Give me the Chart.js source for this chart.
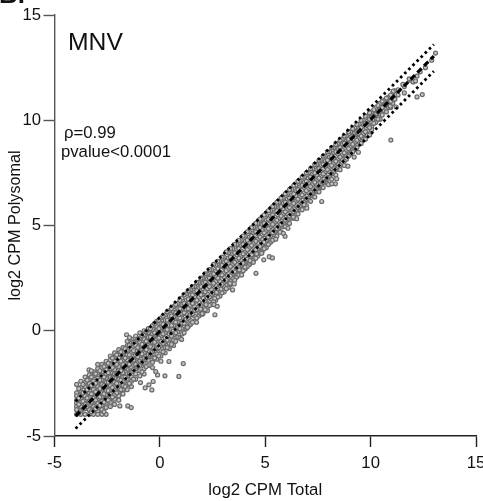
<!DOCTYPE html>
<html>
<head>
<meta charset="utf-8">
<title>MNV</title>
<script src="https://cdn.jsdelivr.net/npm/chart.js@4"></script>
<style>
html, body { margin: 0; padding: 0; background: #fff; overflow: hidden; }
canvas { display: block; }
</style>
</head>
<body>
<canvas id="grafico" width="483" height="501"></canvas>
<script>
const xTicks = [-5, 0, 5, 10, 15]
const yTicks = [-5, 0, 5, 10, 15]

// fit lines
const lineX = [-4, 13]
const fitY = [-4.05, 13.05]
const upperY = [-3.35, 13.6]
const lowerY = [-4.65, 12.33]

// main cloud, one list of y values per x column
const colX = [-3.95, -3.75, -3.55, -3.35, -3.15, -2.95, -2.75, -2.55, -2.35, -2.15, -1.95, -1.75, -1.55, -1.35, -1.15, -0.95, -0.75, -0.55, -0.35, -0.15, 0.05, 0.25, 0.45, 0.65, 0.85, 1.05, 1.25, 1.45, 1.65, 1.85, 2.05, 2.25, 2.45, 2.65, 2.85, 3.05, 3.25, 3.45, 3.65, 3.85, 4.05, 4.25, 4.45, 4.65, 4.85, 5.05, 5.25, 5.45, 5.65, 5.85, 6.05, 6.25, 6.45, 6.65, 6.85, 7.05, 7.25, 7.45, 7.65, 7.85, 8.05, 8.25, 8.45, 8.65, 8.85, 9.05, 9.25, 9.45, 9.65, 9.85, 10.05, 10.25, 10.45, 10.65, 10.85, 11.05, 11.3, 11.6, 11.9, 12.2, 12.6, 12.9]
const colY = [
  [-2.55, -2.95, -3.1, -3.3, -3.45, -3.6, -3.75, -3.97],
  [-2.4, -2.7, -2.9, -3.05, -3.25, -3.4, -3.6, -3.8, -3.97],
  [-2.2, -2.45, -2.65, -2.9, -3.1, -3.3, -3.5, -3.7, -3.97],
  [-2.1, -2.3, -2.5, -2.7, -2.95, -3.15, -3.35, -3.55, -3.75, -3.97],
  [-1.95, -2.15, -2.4, -2.6, -2.8, -3, -3.2, -3.4, -3.6, -3.8, -3.97],
  [-1.6, -1.8, -2, -2.25, -2.45, -2.65, -2.85, -3.05, -3.25, -3.45, -3.65, -3.82, -3.97],
  [-1.6, -1.75, -1.95, -2.15, -2.35, -2.55, -2.75, -2.95, -3.15, -3.35, -3.55, -3.75, -3.97],
  [-1.45, -1.65, -1.85, -2.05, -2.25, -2.45, -2.65, -2.85, -3.05, -3.25, -3.45, -3.65, -3.97],
  [-1.2, -1.4, -1.6, -1.8, -2, -2.2, -2.4, -2.6, -2.8, -3, -3.2, -3.4, -3.6],
  [-1.05, -1.25, -1.45, -1.65, -1.85, -2.05, -2.25, -2.45, -2.65, -2.85, -3.05, -3.25, -3.5],
  [-0.9, -1.1, -1.3, -1.5, -1.7, -1.9, -2.1, -2.3, -2.5, -2.7, -2.9, -3.1, -3.3],
  [-0.8, -1, -1.2, -1.4, -1.6, -1.8, -2, -2.2, -2.4, -2.6, -2.8, -3],
  [-0.5, -0.72, -0.95, -1.15, -1.38, -1.6, -1.82, -2.05, -2.3, -2.55, -2.8],
  [-0.4, -0.6, -0.85, -1.05, -1.3, -1.5, -1.75, -1.95, -2.2, -2.4, -2.65],
  [-0.25, -0.5, -0.7, -0.95, -1.15, -1.35, -1.6, -1.8, -2.05, -2.3],
  [-0.1, -0.35, -0.55, -0.75, -1, -1.2, -1.45, -1.65, -1.9, -2.15],
  [0, -0.2, -0.4, -0.65, -0.85, -1.05, -1.3, -1.55, -1.8, -2.05],
  [0.1, -0.1, -0.3, -0.5, -0.7, -0.95, -1.15, -1.4, -1.65],
  [0.25, 0.05, -0.15, -0.35, -0.55, -0.8, -1, -1.25, -1.5, -1.75],
  [0.45, 0.2, 0, -0.2, -0.4, -0.65, -0.85, -1.1, -1.35],
  [0.6, 0.35, 0.15, -0.05, -0.25, -0.5, -0.7, -0.95, -1.2, -1.45],
  [0.75, 0.5, 0.3, 0.1, -0.1, -0.35, -0.55, -0.8, -1.05],
  [0.95, 0.7, 0.5, 0.25, 0.05, -0.15, -0.4, -0.6, -0.85],
  [1.15, 0.9, 0.65, 0.45, 0.25, 0, -0.2, -0.45, -0.7],
  [1.3, 1.05, 0.85, 0.6, 0.4, 0.15, -0.05, -0.3],
  [1.55, 1.25, 1.05, 0.8, 0.6, 0.35, 0.1, -0.15],
  [1.75, 1.45, 1.25, 1, 0.8, 0.55, 0.3, 0.1],
  [1.95, 1.7, 1.45, 1.2, 1, 0.75, 0.5, 0.3],
  [2.1, 1.85, 1.6, 1.4, 1.15, 0.95, 0.7, 0.45],
  [2.3, 2.05, 1.8, 1.6, 1.35, 1.15, 0.9, 0.7],
  [2.5, 2.25, 2, 1.75, 1.55, 1.3, 1.1, 0.85],
  [2.7, 2.45, 2.2, 2, 1.75, 1.55, 1.3, 1.05, 0.95],
  [2.9, 2.65, 2.4, 2.15, 1.95, 1.7, 1.5, 1.25],
  [3.1, 2.85, 2.6, 2.35, 2.15, 1.9, 1.7, 1.45],
  [3.3, 3.05, 2.8, 2.6, 2.35, 2.1, 1.9, 1.65],
  [3.5, 3.25, 3, 2.75, 2.55, 2.3, 2.1, 1.85],
  [3.7, 3.45, 3.2, 2.95, 2.75, 2.5, 2.3, 2.05],
  [3.9, 3.65, 3.4, 3.15, 2.95, 2.7, 2.5, 2.25],
  [4.1, 3.85, 3.6, 3.35, 3.15, 2.9, 2.7, 2.55],
  [4.3, 4.05, 3.8, 3.55, 3.35, 3.1, 2.9, 2.75],
  [4.5, 4.25, 4, 3.75, 3.55, 3.3, 3.1, 2.95],
  [4.7, 4.45, 4.2, 3.95, 3.75, 3.5, 3.3, 3.15],
  [4.9, 4.65, 4.4, 4.15, 3.95, 3.7, 3.5, 3.35],
  [5.1, 4.85, 4.6, 4.35, 4.15, 3.9, 3.7, 3.55],
  [5.3, 5.05, 4.8, 4.55, 4.35, 4.1, 3.9, 3.75],
  [5.5, 5.25, 5, 4.75, 4.55, 4.3, 4.1, 3.95],
  [5.7, 5.45, 5.2, 4.95, 4.75, 4.5, 4.3, 4.2],
  [5.9, 5.65, 5.4, 5.15, 4.95, 4.7, 4.55],
  [6.1, 5.85, 5.6, 5.35, 5.15, 4.9, 4.75],
  [6.3, 6.05, 5.8, 5.55, 5.35, 5.1, 4.95],
  [6.5, 6.25, 6, 5.75, 5.55, 5.3, 5.15],
  [6.7, 6.45, 6.2, 5.95, 5.75, 5.5, 5.35],
  [6.9, 6.65, 6.4, 6.15, 5.95, 5.7, 5.55],
  [7.1, 6.85, 6.6, 6.35, 6.15, 5.9, 5.75],
  [7.3, 7.05, 6.8, 6.55, 6.35, 6.1, 5.95],
  [7.5, 7.25, 7, 6.75, 6.55, 6.3, 6.2],
  [7.7, 7.45, 7.2, 6.95, 6.75, 6.5, 6.4],
  [7.9, 7.65, 7.4, 7.15, 6.95, 6.7, 6.6],
  [8.1, 7.85, 7.6, 7.35, 7.15, 6.9, 6.8],
  [8.3, 8.05, 7.8, 7.55, 7.35, 7.1, 7.05],
  [8.5, 8.25, 8, 7.75, 7.55, 7.3],
  [8.7, 8.45, 8.2, 7.95, 7.75, 7.55],
  [8.9, 8.65, 8.4, 8.15, 7.95, 7.75],
  [9.1, 8.85, 8.6, 8.35, 8.15, 7.95],
  [9.25, 9, 8.8, 8.55, 8.35, 8.15],
  [9.45, 9.2, 9, 8.75, 8.55, 8.4],
  [9.65, 9.4, 9.2, 8.95, 8.75, 8.6],
  [9.8, 9.55, 9.35, 9.15, 8.95],
  [10, 9.75, 9.55, 9.35, 9.15],
  [10.2, 9.95, 9.75, 9.5, 9.3],
  [10.4, 10.15, 9.9, 9.7, 9.55],
  [10.6, 10.3, 10.1, 9.9],
  [10.8, 10.5, 10.3, 10.05],
  [10.95, 10.7, 10.45],
  [11.1, 10.85, 10.6],
  [11.3, 11.05, 10.8],
  [11.45, 11.2],
  [11.6, 11.3],
  [11.9],
  [12.1],
  [12.5],
  [12.85]
]

// second pass of columns between the first ones
const col2X = [-3.85, -3.65, -3.45, -3.25, -3.05, -2.85, -2.65, -2.45, -2.25, -2.05, -1.85, -1.65, -1.45, -1.25, -1.05, -0.85, -0.65, -0.45, -0.25, -0.05, 0.15, 0.35, 0.55, 0.75, 0.95, 1.15, 1.35, 1.55, 1.75, 1.95, 2.15, 2.35, 2.55, 2.75, 2.95, 3.15, 3.35, 3.55, 3.75, 3.95, 4.15, 4.35, 4.55, 4.75, 4.95, 5.15, 5.35, 5.55, 5.75, 5.95, 6.15, 6.35, 6.55, 6.75, 6.95, 7.15, 7.35, 7.55, 7.75, 7.95, 8.15, 8.35, 8.55, 8.75, 8.95, 9.15, 9.35, 9.55, 9.75, 9.95, 10.15, 10.35, 10.55, 10.75, 10.95, 11.15]
const col2Y = [
  [-2.75, -3.2, -3.5, -3.9],
  [-2.55, -2.95, -3.35, -3.72],
  [-2.35, -2.8, -3.2, -3.6],
  [-2.2, -2.6, -3, -3.4, -3.85],
  [-2.05, -2.5, -2.9, -3.3, -3.7],
  [-1.9, -2.35, -2.75, -3.15, -3.55],
  [-1.7, -2.2, -2.6, -3, -3.4, -3.85],
  [-1.55, -2, -2.45, -2.85, -3.3],
  [-1.3, -1.75, -2.25, -2.7, -3.15],
  [-1.15, -1.6, -2.05, -2.5, -2.95],
  [-1, -1.45, -1.9, -2.35, -2.8],
  [-0.85, -1.3, -1.75, -2.2, -2.65],
  [-0.7, -1.15, -1.6, -2.05, -2.5],
  [-0.55, -0.95, -1.4, -1.85, -2.3],
  [-0.4, -0.8, -1.25, -1.7],
  [-0.25, -0.65, -1.1, -1.5, -1.95],
  [-0.05, -0.5, -0.9, -1.3, -1.7],
  [0.1, -0.3, -0.75, -1.15],
  [0.35, -0.1, -0.55, -0.95, -1.3],
  [0.5, 0.1, -0.35, -0.8, -1.2],
  [0.7, 0.3, -0.15, -0.6, -1],
  [0.9, 0.5, 0.05, -0.45, -0.8],
  [1.05, 0.7, 0.25, -0.25, -0.65],
  [1.25, 0.85, 0.4, -0.1, -0.5],
  [1.45, 1.05, 0.6, 0.1, -0.35],
  [1.7, 1.3, 0.85, 0.35, -0.1],
  [1.9, 1.5, 1.05, 0.6, 0.2],
  [2.1, 1.7, 1.3, 0.8, 0.4],
  [2.3, 1.9, 1.45, 1, 0.6],
  [2.5, 2.1, 1.7, 1.2, 0.8],
  [2.7, 2.3, 1.85, 1.4, 1],
  [2.9, 2.5, 2.1, 1.6, 1.2],
  [3.15, 2.7, 2.25, 1.8, 1.4],
  [3.3, 2.95, 2.5, 2, 1.6],
  [3.5, 3.1, 2.65, 2.2, 1.8],
  [3.75, 3.3, 2.85, 2.4, 2],
  [3.9, 3.5, 3.05, 2.6, 2.2],
  [4.1, 3.7, 3.25, 2.8, 2.4],
  [4.3, 3.9, 3.45, 3, 2.65],
  [4.5, 4.1, 3.65, 3.2, 2.85],
  [4.7, 4.3, 3.85, 3.4, 3.05],
  [4.9, 4.5, 4.05, 3.6, 3.25],
  [5.1, 4.7, 4.25, 3.85, 3.45],
  [5.3, 4.9, 4.45, 4, 3.7],
  [5.5, 5.1, 4.65, 4.2, 3.9],
  [5.7, 5.3, 4.85, 4.45, 4.1],
  [5.9, 5.5, 5.05, 4.65, 4.3],
  [6.1, 5.7, 5.25, 4.85, 4.5],
  [6.3, 5.9, 5.45, 5.05, 4.7],
  [6.5, 6.1, 5.65, 5.25, 4.95],
  [6.7, 6.3, 5.85, 5.45, 5.1],
  [6.9, 6.5, 6.05, 5.65, 5.35],
  [7.1, 6.7, 6.25, 5.85, 5.55],
  [7.3, 6.9, 6.45, 6.05, 5.75],
  [7.5, 7.1, 6.65, 6.25, 5.95],
  [7.7, 7.3, 6.85, 6.45, 6.15],
  [7.9, 7.5, 7.05, 6.65, 6.35],
  [8.1, 7.7, 7.25, 6.85, 6.6],
  [8.3, 7.9, 7.45, 7.05, 6.8],
  [8.5, 8.1, 7.65, 7.25, 7],
  [8.7, 8.3, 7.85, 7.45, 7.2],
  [8.85, 8.5, 8.05, 7.65, 7.4],
  [9.05, 8.7, 8.25, 7.85, 7.65],
  [9.25, 8.9, 8.45, 8.05, 7.85],
  [9.45, 9.1, 8.65, 8.3],
  [9.6, 9.25, 8.85, 8.5],
  [9.8, 9.45, 9.05, 8.7],
  [10, 9.65, 9.25, 8.9],
  [10.2, 9.85, 9.45, 9.1],
  [10.35, 10.05, 9.65, 9.3],
  [10.5, 10.2, 9.85],
  [10.7, 10.4, 10.05],
  [10.9, 10.6, 10.25],
  [11.05, 10.75, 10.4],
  [11.2, 10.9, 10.6],
  [11.4, 11]
]

// points that sit away from the band
const outX = [3.33, 3.53, 3.45, 4.56, 3.88, 4.93, 5.19, 5.34, 5.5, 5.94, 6.08, 6.49, 6.97, 7.68, 8.33, 2.61, 2.03, 2.57, 2.72, 2.6, 4.43, 4.83, 10.96, 12.2, 12.45, 13.08, 12.35, 11.83, 12.02, 12.13, 11.53, 11.07, 11.21, 10.93, 9.22, 9.42, 8.92, -1.58, -1.44, -3.36, -3.25, 1.11, 0.43, 0.24, 0.9, -0.11, -0.2, -0.32, -0.52, -0.7, -0.38, -0.92, -1.9, -1.52, -1.36, 1.74, 1.03, 2.01, 1.31, 3.77, 4.04, 4.28, 4.59, 5.7, 5.86, 6.33, 6.84, 8, 8.16, 8.39, 2.9, 2.69, 2.19, 1.93]
const outY = [2.25, 2.22, 1.94, 2.73, 2.65, 3.37, 3.52, 3.46, 4.35, 4.49, 4.87, 5.32, 5.82, 6.14, 6.98, 0.76, 0.79, 1.24, 1.16, 1.54, 3.25, 3.68, 9.06, 11.11, 11.22, 13.19, 12.3, 11.97, 11.82, 11.87, 11.7, 11.38, 10.63, 10.67, 8.25, 8.48, 7.82, -0.19, -0.33, -1.86, -1.9, -1.56, -1.46, -2.14, -2.17, -2.1, -1.94, -2.41, -2.57, -2.71, -2.81, -2.46, -3.57, -3.57, -3.65, 0.4, -0.41, 0.81, 0.16, 2.89, 3.02, 3.33, 3.65, 4.68, 4.63, 5.4, 5.99, 6.94, 6.98, 7.22, 1.98, 1.82, 1.24, 1.03]

const pontos = []
colX.forEach((x, i) => colY[i].forEach(y => pontos.push({x: x, y: y})))
col2X.forEach((x, i) => col2Y[i].forEach(y => pontos.push({x: x, y: y})))
outX.forEach((x, i) => pontos.push({x: x, y: outY[i]}))

const linha = ys => lineX.map((x, i) => ({x: x, y: ys[i]}))

const fonte = 'Liberation Sans, Arial, sans-serif'
const textos = [
  {t: 'MNV', x: 68, y: 50, f: '24.7px ' + fonte},
  {t: '\u03c1=0.99', x: 64, y: 138, f: '16.7px ' + fonte},
  {t: 'pvalue<0.0001', x: 61, y: 157, f: '16.7px ' + fonte},
  {t: 'B.', x: -1, y: 3, f: 'bold 26px ' + fonte}
]

const notas = {
  id: 'notas',
  afterDraw(chart) {
    const c = chart.ctx
    c.save()
    c.fillStyle = '#111'
    textos.forEach(n => {
      c.font = n.f
      c.fillText(n.t, n.x, n.y)
    })
    c.restore()
  }
}

const eixo = (ticks, titulo, cor) => ({
  type: 'linear',
  min: -5,
  max: 15,
  afterBuildTicks: s => { s.ticks = ticks.map(v => ({value: v})) },
  border: {color: cor, width: 1.4},
  grid: {drawOnChartArea: false, drawTicks: true, tickLength: 11, tickColor: cor, tickWidth: 1.4},
  ticks: {color: '#111', font: {family: fonte, size: 16.7}, maxRotation: 0, autoSkip: false},
  title: {display: true, text: titulo, color: '#111', font: {family: fonte, size: 16.5}}
})

const escalaX = eixo(xTicks, 'log2 CPM Total', '#222')
escalaX.afterFit = s => { s.height = 65; s.paddingRight = 0; s.paddingLeft = 0 }
escalaX.ticks.padding = 6
escalaX.title.font.size = 16.8
escalaX.title.padding = {top: 6, bottom: 1}
const escalaY = eixo(yTicks, 'log2 CPM Polysomal', '#555')
escalaY.afterFit = s => { s.width = 54.5; s.paddingTop = 0; s.paddingBottom = 0 }
escalaY.ticks.padding = 2.5
escalaY.title.font.size = 16.2
escalaY.title.padding = {top: 6, bottom: 0}

new Chart(document.getElementById('grafico'), {
  type: 'scatter',
  data: {
    datasets: [
      {type: 'line', data: linha(fitY), order: 1, borderColor: '#000', borderWidth: 3.2, borderDash: [6, 3.5], pointRadius: 0, fill: false},
      {type: 'line', data: linha(upperY), order: 2, borderColor: '#000', borderWidth: 2.8, borderDash: [2.6, 3.2], pointRadius: 0, fill: false},
      {type: 'line', data: linha(lowerY), order: 3, borderColor: '#000', borderWidth: 2.8, borderDash: [2.6, 3.2], pointRadius: 0, fill: false},
      {data: pontos, order: 4, pointRadius: 2, borderWidth: 1.2, borderColor: '#6a6a6a', backgroundColor: '#c4c4c4'}
    ]
  },
  options: {
    responsive: false,
    animation: false,
    layout: {padding: {top: 15, right: 7, left: 0, bottom: 0}},
    plugins: {legend: {display: false}, tooltip: {enabled: false}},
    scales: {x: escalaX, y: escalaY}
  },
  plugins: [notas]
})
</script>
</body>
</html>
